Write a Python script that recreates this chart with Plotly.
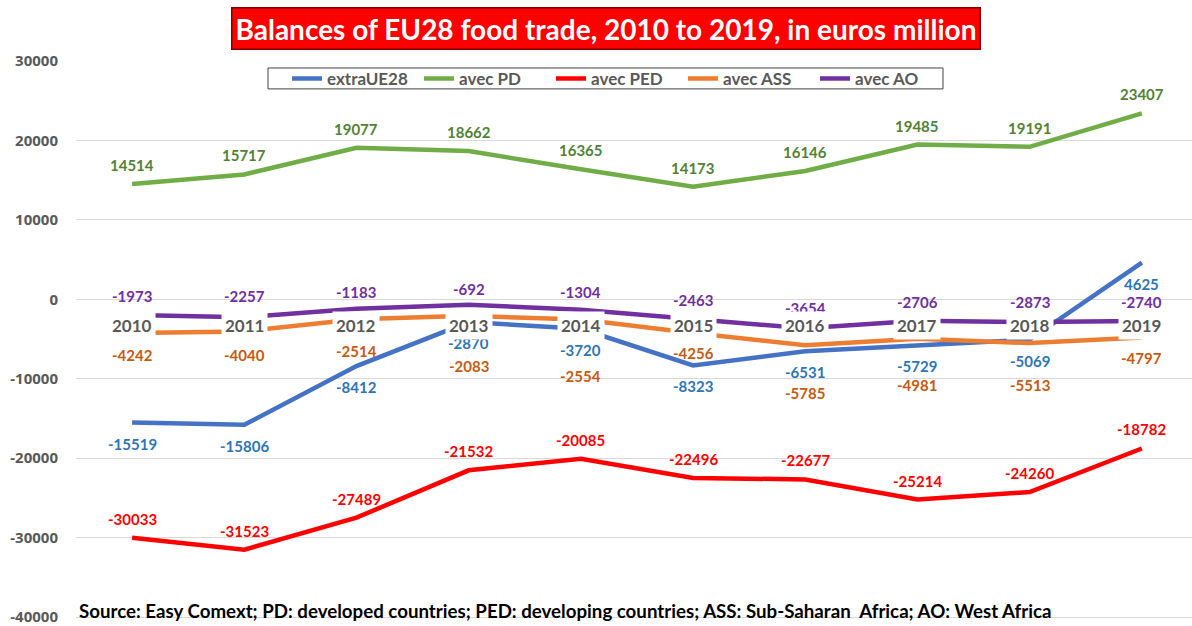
import plotly.graph_objects as go

years = ["2010", "2011", "2012", "2013", "2014", "2015", "2016", "2017", "2018", "2019"]
extra_ue28 = [-15519, -15806, -8412, -2870, -3720, -8323, -6531, -5729, -5069, 4625]
avec_pd = [14514, 15717, 19077, 18662, 16365, 14173, 16146, 19485, 19191, 23407]
avec_ped = [-30033, -31523, -27489, -21532, -20085, -22496, -22677, -25214, -24260, -18782]
avec_ass = [-4242, -4040, -2514, -2083, -2554, -4256, -5785, -4981, -5513, -4797]
avec_ao = [-1973, -2257, -1183, -692, -1304, -2463, -3654, -2706, -2873, -2740]
y_ticks = [30000, 20000, 10000, 0, -10000, -20000, -30000, -40000]

W, H = 1192, 626
ML, MR, MT, MB = 76, 0, 61, 4
PW, PH = W - ML - MR, H - MT - MB

def py(p):
    return (H - MB - p) / PH

def px(p):
    return (p - ML) / PW

# series: name, values, line colour, label colour, label pixel shifts
series = [
    ("extraUE28", extra_ue28, "#4472C4", "#2E75B6", [-21] * 10),
    ("avec PD", avec_pd, "#70AD47", "#548235", [19] * 10),
    ("avec PED", avec_ped, "#FF0000", "#FF0000", [19] * 10),
    ("avec ASS", avec_ass, "#ED7D31", "#C55A11", [-22, -24, -32, -50, -56, -20, -48, -46, -42, -21]),
    ("avec AO", avec_ao, "#7030A0", "#7030A0", [19, 21, 17, 16, 18, 19, 20, 19, 20, 19]),
]

fig = go.Figure()
annotations = []
label_font = "Lato"
for name, vals, col, lcol, shifts in series:
    fig.add_trace(go.Scatter(x=years, y=vals, mode="lines", name=name,
                             line=dict(color=col, width=4.5)))
    for i, (v, s) in enumerate(zip(vals, shifts)):
        annotations.append(dict(x=i, y=v, xref="x", yref="y", text=str(v), showarrow=False,
                                yshift=s, font=dict(family=label_font, size=15, color=lcol, weight="bold")))

# category labels on the zero line, with white boxes
for i, yr in enumerate(years):
    annotations.append(dict(x=i, y=0, xref="x", yref="y", text=yr, showarrow=False, yshift=-26,
                            bgcolor="white", borderpad=3,
                            font=dict(family=label_font, size=17, color="#595959", weight="bold")))

# title
annotations.append(dict(x=px(606), y=py(28), xref="paper", yref="paper", xanchor="center", yanchor="middle",
                        text="Balances of EU28 food trade, 2010 to 2019, in euros million", showarrow=False,
                        bgcolor="#FF0000", bordercolor="#7F0000", borderwidth=1.5, borderpad=3,
                        font=dict(family=label_font, size=28, color="white", weight="bold")))
# source
annotations.append(dict(x=px(77), y=py(613), xref="paper", yref="paper", xanchor="left", yanchor="middle",
                        text="Source: Easy Comext; PD: developed countries; PED: developing countries; ASS: Sub-Saharan  Africa; AO: West Africa",
                        showarrow=False, font=dict(family=label_font, size=18.7, color="black", weight="bold")))

fig.update_layout(
    width=W, height=H,
    margin=dict(l=ML, r=MR, t=MT, b=MB),
    plot_bgcolor="white", paper_bgcolor="white",
    showlegend=True,
    legend=dict(orientation="h", x=px(287), y=py(79), xanchor="left", yanchor="middle",
                borderwidth=0, bgcolor="rgba(0,0,0,0)",
                font=dict(family=label_font, size=17, color="#595959", weight="bold"),
                itemwidth=30, tracegroupgap=0, entrywidth=87),
    shapes=[dict(type="rect", xref="paper", yref="paper", x0=px(268), x1=px(943), y0=py(89), y1=py(68),
                 line=dict(color="#404040", width=1), fillcolor="white", layer="above")],
    annotations=annotations,
    xaxis=dict(type="category", range=[-0.5, 9.447], showgrid=False, showticklabels=False,
               zeroline=False, showline=False),
    yaxis=dict(range=[-40376, 30000], tickvals=y_ticks, ticktext=[str(t) for t in y_ticks],
               showgrid=True, gridcolor="#D9D9D9", gridwidth=1, ticklabeloverflow="allow",
               zeroline=False, showline=False, ticklabelstandoff=17,
               tickfont=dict(family="Open Sans", size=15, color="#595959", weight="bold")),
)

fig.write_html("out.html", post_script="document.body.style.margin='0';",
               config={"displayModeBar": False})
